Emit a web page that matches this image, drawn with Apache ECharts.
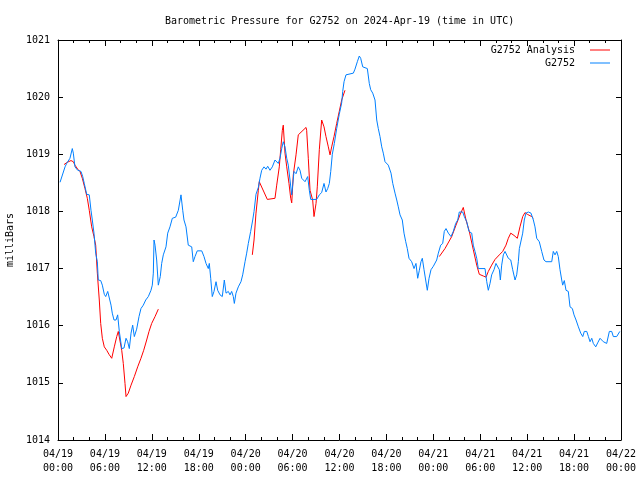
<!DOCTYPE html>
<html>
<head>
<meta charset="utf-8">
<script src="https://cdn.jsdelivr.net/npm/echarts@6/dist/echarts.min.js"></script>
<style>html,body{margin:0;padding:0;background:#fff}#c{width:640px;height:480px}</style>
</head>
<body>
<div id="c"></div>
<script>
// hours since 2024-04-19 00:00 UTC
var obsHours = [0.26,0.51,0.90,1.11,1.53,1.83,1.96,2.17,2.52,2.94,3.16,3.36,3.67,4.00,4.22,4.39,4.60,4.82,5.03,5.15,5.46,5.67,5.92,6.10,6.36,6.56,6.78,6.94,7.16,7.42,7.63,7.84,8.15,8.44,8.70,8.91,9.12,9.34,9.55,9.76,10.06,10.36,10.61,10.91,11.22,11.55,11.89,12.06,12.19,12.28,12.41,12.62,12.83,13.08,13.26,13.47,13.81,14.03,14.32,14.62,15.05,15.39,15.73,15.95,16.11,16.37,16.66,17.10,17.30,17.52,17.81,18.38,18.67,18.93,19.22,19.35,19.53,19.73,19.95,20.21,20.42,20.72,21.01,21.27,21.49,21.78,22.00,22.21,22.42,22.55,22.76,23.06,23.40,23.62,23.92,24.13,24.34,24.64,24.90,25.07,25.32,25.62,25.83,26.05,26.35,26.60,26.82,27.11,27.41,27.75,27.97,28.17,28.39,28.61,28.81,29.03,29.25,29.45,29.67,29.89,30.01,30.18,30.44,30.73,30.95,31.17,31.59,31.93,32.14,32.32,33.08,33.42,33.72,34.02,34.27,34.49,34.70,34.88,35.08,35.34,35.64,35.97,36.28,36.41,36.58,36.83,37.05,37.77,37.98,38.28,38.53,38.71,38.97,39.56,39.81,39.99,40.25,40.54,40.76,40.96,41.18,41.40,41.60,41.82,42.24,42.59,42.81,43.10,43.32,43.52,43.74,44.03,44.25,44.47,44.67,44.89,45.23,45.53,45.78,46.00,46.21,46.42,46.59,46.81,47.02,47.23,47.45,47.70,48.00,48.43,48.64,48.94,49.20,49.40,49.62,49.92,50.26,50.55,50.86,51.12,51.32,51.76,51.96,52.27,52.56,52.91,53.11,53.33,53.55,53.75,54.61,54.83,55.03,55.25,55.46,55.76,56.01,56.18,56.44,56.57,56.74,56.95,57.17,57.38,57.59,57.90,58.15,58.45,58.66,58.87,59.00,59.21,59.43,59.63,59.85,60.15,60.49,60.79,61.00,61.22,61.55,61.86,62.15,62.41,63.14,63.34,63.56,63.78,63.98,64.20,64.42,64.54,64.75,64.97,65.26,65.48,65.78,65.99,66.25,66.55,66.85,67.11,67.31,67.62,67.83,68.04,68.26,68.46,68.77,69.02,69.32,69.53,69.74,70.17,70.30,70.51,70.81,71.02,71.45,71.66,71.85];
var obsPressure = [1018.51,1018.51,1018.78,1018.84,1018.93,1019.10,1019.02,1018.78,1018.72,1018.70,1018.61,1018.49,1018.30,1018.29,1018.02,1017.85,1017.62,1017.27,1017.12,1016.80,1016.79,1016.71,1016.55,1016.51,1016.60,1016.60,1016.36,1016.22,1016.10,1016.10,1016.19,1015.90,1015.60,1015.61,1015.78,1015.72,1015.60,1015.87,1016.01,1015.81,1015.94,1016.16,1016.30,1016.36,1016.45,1016.51,1016.62,1016.71,1016.92,1017.50,1017.41,1017.15,1016.71,1016.86,1017.09,1017.24,1017.38,1017.62,1017.73,1017.88,1017.90,1018.02,1018.29,1018.02,1017.85,1017.73,1017.41,1017.38,1017.12,1017.21,1017.31,1017.31,1017.21,1017.09,1017.00,1017.09,1016.83,1016.51,1016.60,1016.77,1016.62,1016.54,1016.51,1016.80,1016.57,1016.60,1016.54,1016.60,1016.51,1016.39,1016.57,1016.68,1016.77,1016.89,1017.12,1017.27,1017.44,1017.65,1017.85,1018.00,1018.30,1018.42,1018.58,1018.72,1018.78,1018.74,1018.79,1018.72,1018.78,1018.90,1018.93,1018.84,1018.93,1019.10,1019.22,1019.13,1018.93,1018.81,1018.55,1018.29,1018.46,1018.70,1018.66,1018.78,1018.72,1018.58,1018.52,1018.61,1018.37,1018.21,1018.21,1018.29,1018.33,1018.49,1018.34,1018.40,1018.49,1018.70,1019.00,1019.19,1019.45,1019.70,1019.90,1020.10,1020.27,1020.39,1020.42,1020.42,1020.49,1020.62,1020.72,1020.68,1020.53,1020.50,1020.24,1020.13,1020.07,1019.95,1019.60,1019.45,1019.31,1019.13,1019.02,1018.87,1018.81,1018.67,1018.49,1018.32,1018.20,1018.08,1017.94,1017.85,1017.62,1017.47,1017.35,1017.18,1017.12,1017.00,1017.09,1016.83,1016.97,1017.12,1017.18,1016.98,1016.80,1016.62,1016.83,1016.98,1017.04,1017.15,1017.27,1017.41,1017.44,1017.65,1017.70,1017.62,1017.56,1017.65,1017.79,1017.85,1017.99,1017.99,1017.91,1017.82,1017.65,1017.62,1017.41,1017.30,1017.18,1017.00,1017.00,1016.77,1016.62,1016.74,1016.89,1016.98,1017.09,1017.12,1016.98,1016.80,1017.06,1017.24,1017.30,1017.27,1017.18,1017.15,1016.98,1016.80,1016.89,1017.12,1017.35,1017.38,1017.62,1017.85,1017.97,1017.99,1017.97,1017.85,1017.73,1017.53,1017.47,1017.30,1017.15,1017.12,1017.12,1017.30,1017.24,1017.30,1017.21,1016.98,1016.80,1016.71,1016.79,1016.62,1016.60,1016.33,1016.30,1016.19,1016.10,1015.98,1015.87,1015.81,1015.90,1015.90,1015.81,1015.72,1015.78,1015.69,1015.63,1015.70,1015.78,1015.80,1015.72,1015.69,1015.72,1015.90,1015.90,1015.81,1015.81,1015.84,1015.90];
// analysis (null = gap)
var anaHours = [0.77,1.19,1.66,1.96,2.17,2.52,2.81,3.11,3.45,3.75,4.00,4.31,4.60,4.82,5.03,5.28,5.46,5.67,5.92,6.23,6.52,6.87,7.20,7.51,7.71,7.93,8.15,8.35,8.57,8.70,8.99,9.34,9.76,10.19,10.61,10.96,11.34,11.64,11.98,12.41,12.83,
  18.0,
  24.85,25.07,25.32,25.62,25.74,26.77,27.75,27.97,28.30,28.48,28.69,28.81,29.03,29.25,29.54,29.76,29.89,30.09,30.44,30.73,31.72,31.80,32.01,32.23,32.57,32.74,33.00,33.16,33.42,33.72,34.02,34.27,34.57,34.79,35.00,35.30,35.64,35.97,36.28,36.70,
  42.0,
  48.76,49.49,50.35,50.90,51.41,51.83,52.18,52.60,53.11,53.55,53.88,54.39,54.74,55.03,55.46,55.89,56.44,56.87,57.29,57.59,57.90,58.32,58.74,59.08,59.43,59.72,60.02,60.27,60.58,60.79];
var anaPressure = [1018.82,1018.86,1018.89,1018.87,1018.81,1018.74,1018.70,1018.58,1018.40,1018.23,1018.02,1017.73,1017.56,1017.41,1016.92,1016.45,1016.04,1015.78,1015.63,1015.57,1015.50,1015.43,1015.63,1015.81,1015.90,1015.87,1015.57,1015.34,1014.99,1014.76,1014.82,1014.96,1015.11,1015.28,1015.43,1015.57,1015.75,1015.90,1016.04,1016.16,1016.29,
  null,
  1017.24,1017.50,1017.97,1018.37,1018.52,1018.21,1018.23,1018.46,1018.78,1019.08,1019.42,1019.51,1019.02,1018.78,1018.49,1018.23,1018.15,1018.64,1018.99,1019.34,1019.47,1019.42,1018.93,1018.37,1018.20,1017.91,1018.14,1018.43,1019.08,1019.60,1019.48,1019.31,1019.13,1018.99,1019.13,1019.31,1019.54,1019.75,1019.95,1020.12,
  null,
  1017.21,1017.35,1017.56,1017.76,1017.94,1018.07,1017.85,1017.65,1017.33,1017.06,1016.90,1016.87,1016.85,1016.95,1017.06,1017.16,1017.24,1017.30,1017.41,1017.53,1017.62,1017.58,1017.53,1017.73,1017.91,1017.98,1017.95,1017.95,1017.91,1017.88];
var xTickLabels = ['04/19\n00:00','04/19\n06:00','04/19\n12:00','04/19\n18:00','04/20\n00:00','04/20\n06:00','04/20\n12:00','04/20\n18:00','04/21\n00:00','04/21\n06:00','04/21\n12:00','04/21\n18:00','04/22\n00:00'];
var seriesNames = ['G2752 Analysis','G2752'];
var seriesColors = ['#ff0000','#0080ff'];
var titleText = 'Barometric Pressure for G2752 on 2024-Apr-19 (time in UTC)';
var yName = 'milliBars';

var FONT = 'DejaVu Sans Mono';
var obsData = obsHours.map(function(h,i){return [h, obsPressure[i]];});
var anaData = anaHours.map(function(h,i){return [h, anaPressure[i] === null ? '-' : anaPressure[i]];});

var axisCommon = {
  axisLine: {show: true, onZero: false, lineStyle: {color: '#000', width: 1}},
  splitLine: {show: false}
};
var tickX = {show: true, inside: true, length: 6, lineStyle: {color: '#000'}};
var minorX = {show: true, splitNumber: 3, length: 3, lineStyle: {color: '#000'}};
var tickY = {show: true, inside: true, length: 5, lineStyle: {color: '#000'}};
var chart = echarts.init(document.getElementById('c'), null, {renderer: 'canvas'});
chart.setOption({
  animation: false,
  backgroundColor: '#fff',
  title: {text: titleText, left: 160, top: 11, textStyle: {fontFamily: FONT, fontSize: 10, fontWeight: 'normal', color: '#000'}},
  legend: {
    orient: 'vertical', right: 25, top: 39, align: 'right', itemWidth: 20, itemHeight: 1, itemGap: 1,
    textStyle: {fontFamily: FONT, fontSize: 10, color: '#000', lineHeight: 12, padding: [0, 10, 0, 0]},
    data: seriesNames.map(function(n, i){ return {name: n, icon: 'rect', itemStyle: {color: seriesColors[i]}}; })
  },
  grid: {left: 58, right: 19, top: 40, bottom: 40, containLabel: false, outerBoundsMode: 'none'},
  xAxis: [
    Object.assign({}, axisCommon, {
      type: 'value', min: 0, max: 72, interval: 6, position: 'bottom',
      axisTick: tickX, minorTick: minorX,
      axisLabel: {fontFamily: FONT, fontSize: 10, color: '#000', margin: 7, lineHeight: 14,
        formatter: function(v){ return xTickLabels[Math.round(v/6)]; }}
    }),
    Object.assign({}, axisCommon, {
      type: 'value', min: 0, max: 72, interval: 6, position: 'top',
      axisTick: tickX, minorTick: minorX, axisLabel: {show: false}
    })
  ],
  yAxis: [
    Object.assign({}, axisCommon, {
      type: 'value', min: 1014, max: 1021, interval: 1, position: 'left',
      name: yName, nameLocation: 'middle', nameGap: 38, nameRotate: 90,
      nameTextStyle: {fontFamily: FONT, fontSize: 10, color: '#000'},
      axisTick: tickY,
      axisLabel: {fontFamily: FONT, fontSize: 10, color: '#000', margin: 8,
        formatter: function(v){ return String(Math.round(v)); }}
    }),
    Object.assign({}, axisCommon, {
      type: 'value', min: 1014, max: 1021, interval: 1, position: 'right',
      axisTick: tickY, axisLabel: {show: false}
    })
  ],
  series: [
    {name: seriesNames[0], type: 'line', data: anaData, symbol: 'none', connectNulls: false,
      lineStyle: {color: seriesColors[0], width: 1}, itemStyle: {color: seriesColors[0]}, xAxisIndex: 0, yAxisIndex: 0},
    {name: seriesNames[1], type: 'line', data: obsData, symbol: 'none',
      lineStyle: {color: seriesColors[1], width: 1}, itemStyle: {color: seriesColors[1]}, xAxisIndex: 0, yAxisIndex: 0}
  ]
});
</script>
</body>
</html>
